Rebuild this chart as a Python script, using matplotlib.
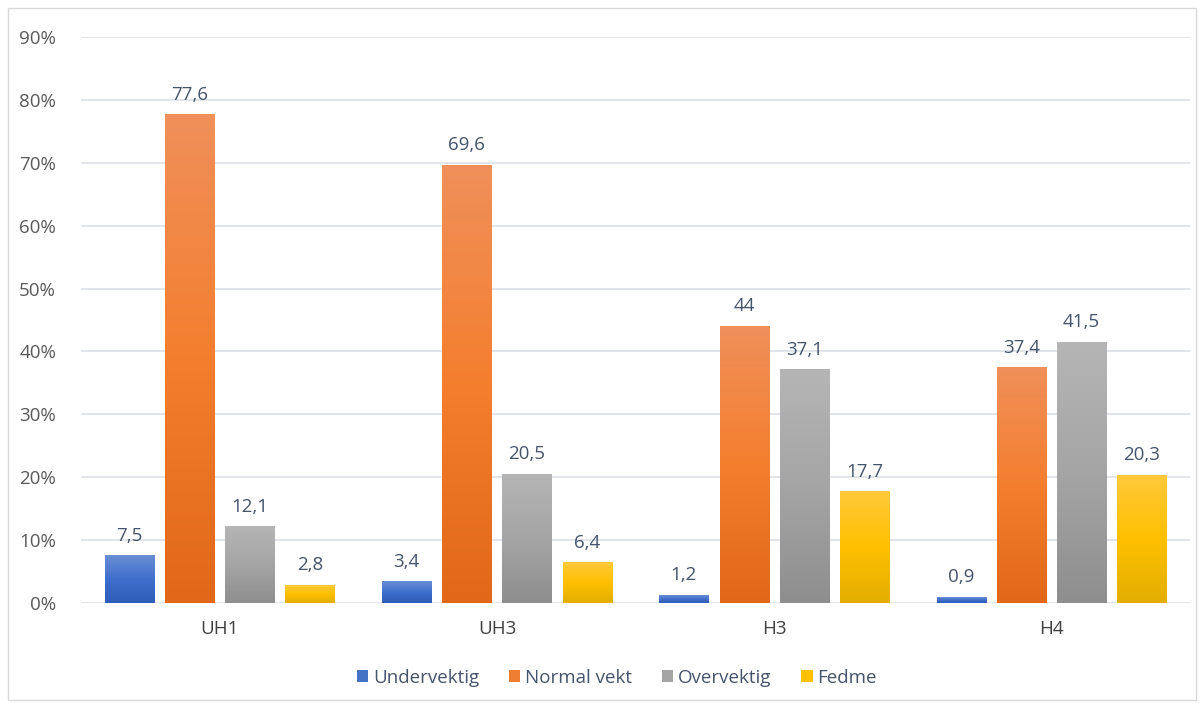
import numpy as np
import matplotlib
matplotlib.use("Agg")
import matplotlib.pyplot as plt
from matplotlib.colors import LinearSegmentedColormap
from matplotlib.patches import Rectangle, Patch
from matplotlib.ticker import FuncFormatter

plt.rcParams['font.family'] = ['Open Sans', 'DejaVu Sans']

categories = ["UH1", "UH3", "H3", "H4"]
series_names = ["Undervektig", "Normal vekt", "Overvektig", "Fedme"]
undervektig = [7.5, 3.4, 1.2, 0.9]
normal_vekt = [77.6, 69.6, 44, 37.4]
overvektig = [12.1, 20.5, 37.1, 41.5]
fedme = [2.8, 6.4, 17.7, 20.3]
series_values = [undervektig, normal_vekt, overvektig, fedme]

# gradient stops per series: (top, middle, bottom)
gradients = [
    ("#6A8ED6", "#3F6FCC", "#2D5DB8"),
    ("#F0905A", "#F47E2E", "#E06818"),
    ("#B5B5B5", "#A5A5A5", "#8E8E8E"),
    ("#FFC93A", "#FFC000", "#E3AE00"),
]
legend_colors = ["#4472C4", "#ED7D31", "#A5A5A5", "#FFC000"]

text_color = "#44546A"
grid_color = "#DCE0E6"
fs = 13.5

fig = plt.figure(figsize=(12.04, 7.06), dpi=100)
fig.patches.append(Rectangle((8 / 1204, 6 / 706), 1188 / 1204, 692 / 706,
                             transform=fig.transFigure, fill=False,
                             edgecolor="#D9D9D9", linewidth=1.0))

ax = fig.add_axes([81 / 1204, 1 - 603 / 706, 1109 / 1204, (603 - 37) / 706])

bar_w = 0.177
step = 0.217
x = np.arange(len(categories))

for i, (vals, stops) in enumerate(zip(series_values, gradients)):
    cmap = LinearSegmentedColormap.from_list(f"g{i}", [stops[2], stops[1], stops[0]])
    offs = (i - 1.5) * step
    bars = ax.bar(x + offs, vals, width=bar_w, color="none", edgecolor="none", zorder=3)
    for b, v in zip(bars, vals):
        x0, w = b.get_x(), b.get_width()
        grad = np.linspace(0, 1, 256).reshape(-1, 1)
        ax.imshow(grad, cmap=cmap, origin="lower", aspect="auto",
                  extent=(x0, x0 + w, 0, v), zorder=3, interpolation="bicubic")
        label = f"{v:g}".replace(".", ",")
        ax.annotate(label, (x0 + w / 2, v), xytext=(0, 8), textcoords="offset points",
                    ha="center", va="bottom", fontsize=fs, color=text_color)

ax.set_xlim(-0.5, len(categories) - 0.5)
ax.set_ylim(0, 90)
ax.set_yticks(np.arange(0, 91, 10))
ax.yaxis.set_major_formatter(FuncFormatter(lambda v, p: f"{int(v)}%"))
ax.set_xticks(x)
ax.set_xticklabels(categories)
ax.tick_params(axis="both", length=0, labelsize=fs, colors=text_color)
ax.tick_params(axis="x", pad=12)
ax.tick_params(axis="y", pad=18)
for lbl in ax.get_yticklabels():
    lbl.set_color("#595959")
for lbl in ax.get_xticklabels():
    lbl.set_color("#404040")
ax.grid(axis="y", color=grid_color, linewidth=1.2, zorder=0)
ax.set_axisbelow(True)
for s in ax.spines.values():
    s.set_visible(False)

handles = [Patch(facecolor=c, edgecolor="none") for c in legend_colors]
fig.legend(handles, series_names, loc="center", bbox_to_anchor=(617 / 1204, 1 - 678 / 706),
           ncol=4, frameon=False, fontsize=fs, handlelength=0.6, handleheight=0.6,
           handletextpad=0.25, columnspacing=1.6, labelcolor=text_color)

fig.savefig("out.png", dpi=100)
